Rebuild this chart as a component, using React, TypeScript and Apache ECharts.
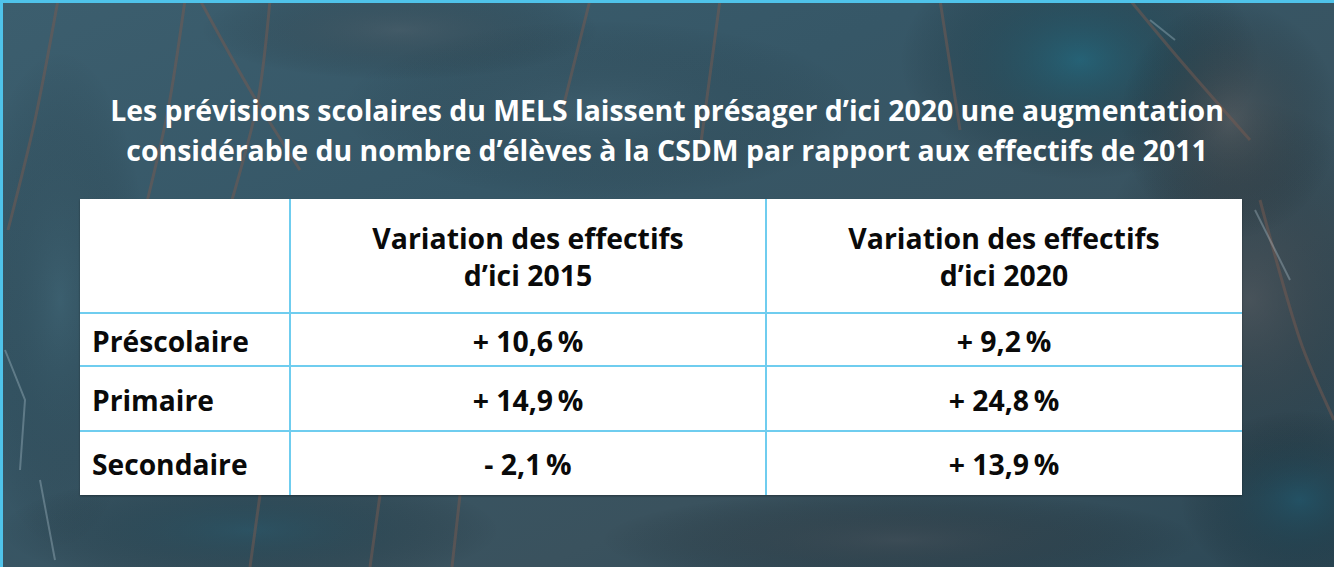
import React, { useEffect, useRef } from "react";
import * as echarts from "echarts";

// ---- data ----
const titleLines = [
  "Les prévisions scolaires du MELS laissent présager d’ici 2020 une augmentation",
  "considérable du nombre d’élèves à la CSDM par rapport aux effectifs de 2011",
];
const columnHeaders = [
  ["Variation des effectifs", "d’ici 2015"],
  ["Variation des effectifs", "d’ici 2020"],
];
const rowLabels = ["Préscolaire", "Primaire", "Secondaire"];
const change2015 = [10.6, 14.9, -2.1];
const change2020 = [9.2, 24.8, 13.9];

// ---- layout ----
const W = 1334;
const H = 567;
const colX = [80, 290, 766, 1242];
const rowY = [199, 313, 366, 431, 495];
const FONT = "'Open Sans', 'Noto Sans', sans-serif";
const LINE = "#6fcdef";

const fmt = (v: number) =>
  (v >= 0 ? "+ " : "- ") + Math.abs(v).toFixed(1).replace(".", ",") + "\u2009%";

function background(): any[] {
  const els: any[] = [];
  els.push({
    type: "rect",
    shape: { x: 0, y: 0, width: W, height: H },
    style: {
      fill: new echarts.graphic.LinearGradient(0, 0, 1, 1, [
        { offset: 0, color: "#3c5e6e" },
        { offset: 0.35, color: "#365767" },
        { offset: 0.7, color: "#3a525e" },
        { offset: 1, color: "#2c4856" },
      ]),
    },
    silent: true,
  });
  const blobs = [
    { cx: 1080, cy: 60, rx: 180, ry: 120, c: "rgba(20,110,135,0.5)" },
    { cx: 1250, cy: 300, rx: 160, ry: 200, c: "rgba(95,85,85,0.4)" },
    { cx: 1230, cy: 120, rx: 110, ry: 120, c: "rgba(110,95,90,0.4)" },
    { cx: 600, cy: 110, rx: 260, ry: 90, c: "rgba(80,110,125,0.25)" },
    { cx: 250, cy: 530, rx: 250, ry: 60, c: "rgba(25,80,100,0.4)" },
    { cx: 900, cy: 540, rx: 300, ry: 50, c: "rgba(70,72,78,0.4)" },
    { cx: 60, cy: 300, rx: 90, ry: 250, c: "rgba(70,110,125,0.3)" },
    { cx: 1300, cy: 500, rx: 120, ry: 90, c: "rgba(20,90,115,0.45)" },
    { cx: 400, cy: 30, rx: 200, ry: 50, c: "rgba(90,90,95,0.3)" },
  ];
  blobs.forEach((b) =>
    els.push({
      type: "ellipse",
      shape: { cx: b.cx, cy: b.cy, rx: b.rx, ry: b.ry },
      style: {
        fill: new echarts.graphic.RadialGradient(0.5, 0.5, 0.5, [
          { offset: 0, color: b.c },
          { offset: 1, color: "rgba(0,0,0,0)" },
        ]),
      },
      silent: true,
    })
  );
  const scratches: number[][][] = [
    [[58, 0], [35, 120], [8, 230]],
    [[185, 0], [168, 110], [145, 210]],
    [[200, 0], [250, 90], [300, 170]],
    [[270, 0], [258, 100], [232, 200]],
    [[1130, 0], [1180, 60], [1250, 140]],
    [[260, 495], [250, 567]],
    [[380, 495], [370, 567]],
    [[460, 495], [452, 567]],
    [[590, 0], [560, 120]],
    [[720, 0], [700, 150]],
    [[940, 0], [960, 130]],
    [[1260, 200], [1300, 340], [1334, 420]],
  ];
  scratches.forEach((pts) =>
    els.push({
      type: "polyline",
      shape: { points: pts, smooth: 0.3 },
      style: { stroke: "rgba(120,90,80,0.5)", lineWidth: 3, fill: "none" },
      silent: true,
    })
  );
  const light: number[][][] = [
    [[1255, 210], [1275, 250], [1290, 280]],
    [[5, 350], [25, 400], [20, 470]],
    [[1150, 20], [1175, 40]],
    [[40, 480], [55, 560]],
  ];
  light.forEach((pts) =>
    els.push({
      type: "polyline",
      shape: { points: pts },
      style: { stroke: "rgba(200,220,230,0.3)", lineWidth: 2, fill: "none" },
      silent: true,
    })
  );
  els.push({ type: "line", shape: { x1: 0, y1: 1.5, x2: W, y2: 1.5 }, style: { stroke: "#4fc3ea", lineWidth: 3 }, silent: true });
  els.push({ type: "line", shape: { x1: 1.5, y1: 0, x2: 1.5, y2: H }, style: { stroke: "#4fc3ea", lineWidth: 3 }, silent: true });
  return els;
}

function table(): any[] {
  const els: any[] = [];
  const left = colX[0];
  const right = colX[colX.length - 1];
  const top = rowY[0];
  const bottom = rowY[rowY.length - 1];
  els.push({
    type: "rect",
    shape: { x: left, y: top, width: right - left, height: bottom - top },
    style: { fill: "#ffffff", shadowColor: "rgba(0,0,0,0.35)", shadowBlur: 2, shadowOffsetY: 1 },
    silent: true,
  });
  for (let i = 1; i < rowY.length - 1; i++) {
    els.push({ type: "line", shape: { x1: left, y1: rowY[i], x2: right, y2: rowY[i] }, style: { stroke: LINE, lineWidth: 2 }, silent: true });
  }
  for (let i = 1; i < colX.length - 1; i++) {
    els.push({ type: "line", shape: { x1: colX[i], y1: top, x2: colX[i], y2: bottom }, style: { stroke: LINE, lineWidth: 2 }, silent: true });
  }
  const txt = (x: number, y: number, text: string, align: string, size: number, color = "#0a0a0a") => ({
    type: "text",
    x,
    y,
    style: { text, align, verticalAlign: "middle", fill: color, font: `bold ${size}px ${FONT}` },
    silent: true,
  });
  const headerMid = (rowY[0] + rowY[1]) / 2;
  columnHeaders.forEach((lines, c) => {
    const cx = (colX[c + 1] + colX[c + 2]) / 2;
    lines.forEach((l, k) => els.push(txt(cx, headerMid + (k - 0.5) * 37, l, "center", 28.4)));
  });
  const cols = [change2015, change2020];
  rowLabels.forEach((label, r) => {
    const cy = (rowY[r + 1] + rowY[r + 2]) / 2 + 1;
    els.push(txt(colX[0] + 12, cy, label, "left", 28.2));
    cols.forEach((vals, c) => {
      const cx = (colX[c + 1] + colX[c + 2]) / 2;
      els.push(txt(cx, cy, fmt(vals[r]), "center", 28.4));
    });
  });
  titleLines.forEach((l, k) =>
    els.push(txt(W / 2, 110 + k * 40, l, "center", 28.4, "#ffffff"))
  );
  return els;
}

export default function App() {
  const ref = useRef<HTMLDivElement>(null);
  useEffect(() => {
    document.body.style.margin = "0";
    const chart = echarts.init(ref.current!, null, { renderer: "svg" });
    chart.setOption({
      animation: false,
      graphic: { elements: [...background(), ...table()] },
    });
    return () => chart.dispose();
  }, []);
  return <div ref={ref} style={{ width: W, height: H }} />;
}
